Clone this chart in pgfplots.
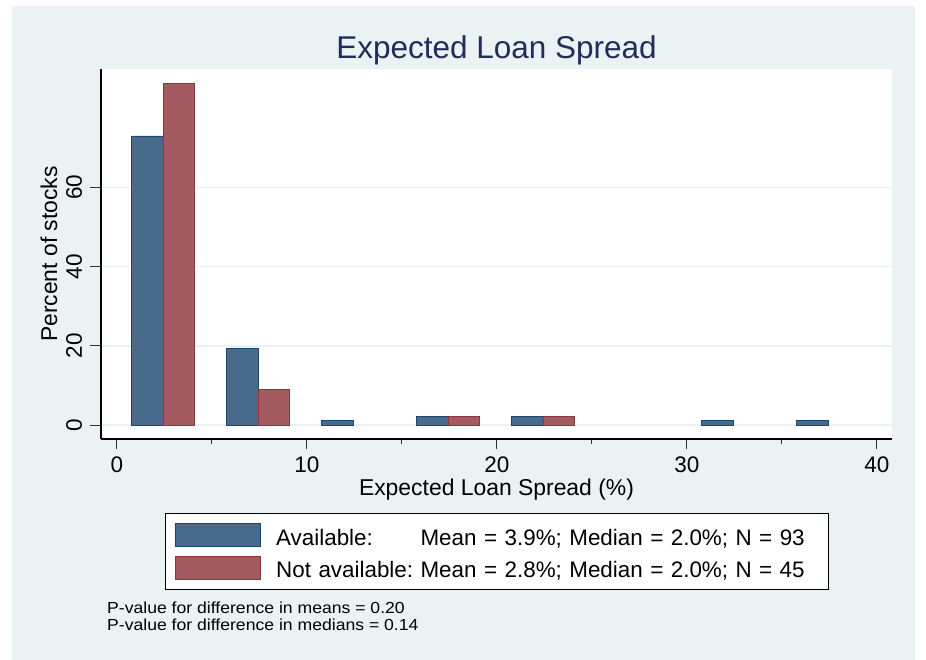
\documentclass[border=0pt]{standalone}
\usepackage{pgfplots}
\pgfplotsset{compat=1.18}
\usepackage{graphicx}
\usepackage{fontspec}
\setmainfont{Liberation Sans}
\frenchspacing
\definecolor{bgblue}{RGB}{234,242,243}
\definecolor{barblue}{RGB}{72,106,140}
\definecolor{barblueline}{RGB}{26,71,111}
\definecolor{barred}{RGB}{163,91,96}
\definecolor{barredline}{RGB}{144,53,59}
\definecolor{titlenavy}{RGB}{30,45,90}
\pgfplotsset{swatch legend/.style={legend image code/.code={\filldraw[##1] (0bp,-1.2bp) rectangle (85bp,21.8bp);}}}
\begin{document}
\begin{tikzpicture}
\useasboundingbox (0,0) rectangle (926bp,660bp);
\fill[white] (0,0) rectangle (926bp,660bp);
\fill[bgblue] (12bp,0) rectangle (915bp,654bp);
\begin{axis}[
  at={(101bp,221bp)}, anchor=south west,
  scale only axis, width=791bp, height=370bp,
  xmin=-0.83, xmax=40.8, ymin=-3.53, ymax=89.9,
  axis x line*=bottom, axis y line*=left,
  axis line style={black, line width=1.2bp},
  axis background/.style={fill=white},
  xtick={0,10,20,30,40}, minor xtick={5,15,25,35},
  ytick={0,20,40,60},
  tick align=outside,
  major tick length=10.5bp, minor tick length=5bp,
  tick style={black!80, line width=1bp},
  ymajorgrids, major grid style={bgblue, line width=1.6bp},
  /pgf/number format/assume math mode=true,
  ticklabel style={font=\fontsize{22.5bp}{27bp}\selectfont},
  yticklabel style={rotate=90, anchor=south},
  yticklabel shift=5bp,
  xticklabel shift=4bp,
  title={Expected Loan Spread},
  title style={at={(axis description cs:0.5,1.011)}, anchor=base, yshift=0pt, font=\fontsize{31.5bp}{36bp}\selectfont, text=titlenavy, inner sep=0pt},
  xlabel={Expected Loan Spread (\%)},
  xlabel style={at={(axis description cs:0.5,-0.1514)}, anchor=base, font=\fontsize{22.9bp}{27bp}\selectfont, inner sep=0pt},
  ylabel={Percent of stocks},
  ylabel style={at={(axis description cs:-0.0556,0.5)}, anchor=base, font=\fontsize{22.9bp}{27bp}\selectfont, inner sep=0pt},
  legend style={at={(axis description cs:0.0809,-0.2)}, anchor=north west,
    draw=black, line width=0.8bp, fill=white,
    inner xsep=10bp, inner ysep=9.5bp, row sep=9bp, column sep=15bp,
    font=\fontsize{22.4bp}{27bp}\selectfont,
    cells={anchor=base west},
    nodes={inner sep=0pt, text depth=0pt, text width=542bp, align=left, anchor=base west}},
]
\addplot[ybar, bar width=1.66, bar shift=0pt, fill=barblue, draw=barblueline, line width=0.8bp, swatch legend]
  coordinates {(1.62,73.0) (6.62,19.35) (11.62,1.08) (16.62,2.15) (21.62,2.15) (31.62,1.08) (36.62,1.08)};
\addlegendentry{\rlap{Available:}\phantom{Not available:} Mean = 3.9\%; Median = 2.0\%; N = 93}
\addplot[ybar, bar width=1.66, bar shift=0pt, fill=barred, draw=barredline, line width=0.8bp, swatch legend]
  coordinates {(3.28,86.2) (8.28,8.89) (18.28,2.22) (23.28,2.22)};
\addlegendentry{Not available: Mean = 2.8\%; Median = 2.0\%; N = 45}
\end{axis}
\node[anchor=base west, inner sep=0pt, font=\fontsize{16bp}{17bp}\selectfont] at (107bp,46bp) {\scalebox{1.1}[1]{P-value for difference in means = 0.20}};
\node[anchor=base west, inner sep=0pt, font=\fontsize{16bp}{17bp}\selectfont] at (107bp,29.3bp) {\scalebox{1.1}[1]{P-value for difference in medians = 0.14}};
\end{tikzpicture}
\end{document}
